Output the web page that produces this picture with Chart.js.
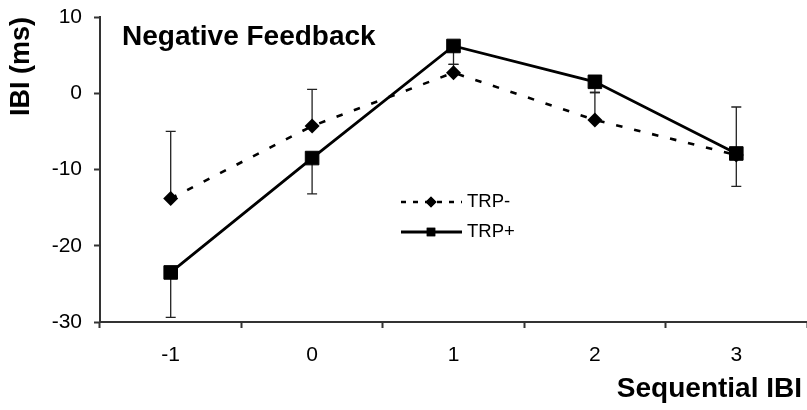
<!DOCTYPE html>
<html>
<head>
<meta charset="utf-8">
<script src="https://cdn.jsdelivr.net/npm/chart.js@4/dist/chart.umd.min.js"></script>
<style>
  html, body { margin: 0; padding: 0; background: #ffffff; }
  #wrap { width: 807px; height: 410px; position: relative; }
</style>
</head>
<body>
<div id="wrap"><canvas id="c" width="807" height="410"></canvas></div>
<script>
// Sequential IBI positions and mean IBI change (ms) per group
const categories = ['-1', '0', '1', '2', '3'];
const trpMinus = [-13.8, -4.3, 2.7, -3.5, -8.1];
const trpPlus = [-23.5, -8.5, 6.2, 1.5, -7.9];
// one-sided error bars: TRP- drawn upward, TRP+ drawn downward
const trpMinusErrUp = [8.8, 4.8, 1.1, 3.6, 6.3];
const trpPlusErrDown = [5.9, 4.7, 2.4, 1.4, 4.3];
const yTicks = [-30, -20, -10, 0, 10];

const FONT = '"Liberation Sans", Arial, Helvetica, sans-serif';
const INK = '#000000';
const AXIS = '#333333';

// Error bars, drawn under the markers
const errorBars = {
  id: 'errorBars',
  beforeDatasetsDraw(chart) {
    const { ctx, scales: { x, y } } = chart;
    const groups = [
      { values: trpMinus, errs: trpMinusErrUp, sign: 1 },
      { values: trpPlus, errs: trpPlusErrDown, sign: -1 }
    ];
    ctx.save();
    ctx.strokeStyle = '#222222';
    ctx.lineWidth = 1.3;
    groups.forEach(g => {
      g.values.forEach((v, i) => {
        const px = x.getPixelForValue(i);
        const y0 = y.getPixelForValue(v);
        const y1 = y.getPixelForValue(v + g.sign * g.errs[i]);
        ctx.beginPath();
        ctx.moveTo(px, y0);
        ctx.lineTo(px, y1);
        ctx.moveTo(px - 5, y1);
        ctx.lineTo(px + 5, y1);
        ctx.stroke();
      });
    });
    ctx.restore();
  }
};

// Caption, legend and horizontal axis title
const overlay = {
  id: 'overlay',
  afterDraw(chart) {
    const { ctx } = chart;
    ctx.save();
    ctx.fillStyle = INK;
    ctx.font = 'bold 28px ' + FONT;
    ctx.textAlign = 'left';
    ctx.textBaseline = 'alphabetic';
    ctx.fillText('Negative Feedback', 122, 45);

    ctx.textAlign = 'right';
    ctx.fillText('Sequential IBI', 802, 397);

    // legend
    const ds = chart.data.datasets;
    const rows = [
      { d: ds.find(s => s.label === 'TRP-'), y: 202, dash: [5, 7], r: 5.5 },
      { d: ds.find(s => s.label === 'TRP+'), y: 232, dash: [], r: 6 }
    ];
    rows.forEach(row => {
      ctx.save();
      ctx.strokeStyle = row.d.borderColor;
      ctx.lineWidth = row.d.borderWidth;
      ctx.setLineDash(row.dash);
      ctx.beginPath();
      ctx.moveTo(401, row.y);
      ctx.lineTo(462, row.y);
      ctx.stroke();
      ctx.restore();
      Chart.helpers.drawPoint(ctx, {
        pointStyle: row.d.pointStyle,
        radius: row.r,
        rotation: 0,
        borderWidth: 0
      }, 431, row.y);
      ctx.fillStyle = INK;
      ctx.fill();
      ctx.font = '18.5px ' + FONT;
      ctx.textAlign = 'left';
      ctx.textBaseline = 'middle';
      ctx.fillText(row.d.label, 467, row.y);
    });
    ctx.restore();
  }
};

new Chart(document.getElementById('c'), {
  type: 'line',
  data: {
    labels: categories,
    datasets: [
      {
        label: 'TRP-',
        data: trpMinus,
        order: 1,
        borderColor: INK,
        borderWidth: 2.6,
        borderDash: [6.5, 12],
        tension: 0,
        fill: false,
        pointStyle: 'rectRot',
        pointRadius: 7.5,
        pointHoverRadius: 7.5,
        pointBackgroundColor: INK,
        pointBorderColor: INK,
        pointBorderWidth: 0
      },
      {
        label: 'TRP+',
        data: trpPlus,
        order: 0,
        borderColor: INK,
        borderWidth: 2.8,
        tension: 0,
        fill: false,
        pointStyle: 'rect',
        pointRadius: 9.6,
        pointHoverRadius: 9.6,
        pointBackgroundColor: INK,
        pointBorderColor: INK,
        pointBorderWidth: 1
      }
    ]
  },
  options: {
    responsive: false,
    devicePixelRatio: 1,
    animation: false,
    events: [],
    layout: { autoPadding: false, padding: { top: 17, left: 0, right: 0, bottom: 0 } },
    plugins: {
      legend: { display: false },
      tooltip: { enabled: false },
      title: { display: false }
    },
    scales: {
      x: {
        type: 'category',
        offset: true,
        grid: {
          offset: true,
          drawOnChartArea: false,
          drawTicks: true,
          tickLength: 6,
          tickWidth: 2,
          tickColor: AXIS
        },
        border: { display: true, color: AXIS, width: 2 },
        ticks: {
          color: INK,
          font: { family: FONT, size: 21 },
          padding: 15,
          maxRotation: 0,
          autoSkip: false
        },
        afterFit(scale) {
          scale.height = 88;
          scale.paddingLeft = 0;
          scale.paddingRight = 0;
        }
      },
      y: {
        min: -30,
        max: 10,
        afterBuildTicks(scale) {
          scale.ticks = yTicks.map(v => ({ value: v }));
        },
        grid: {
          drawOnChartArea: false,
          drawTicks: true,
          tickLength: 6,
          tickWidth: 2,
          tickColor: AXIS
        },
        border: { display: true, color: AXIS, width: 2 },
        ticks: {
          color: INK,
          font: { family: FONT, size: 21 },
          padding: 12
        },
        title: {
          display: true,
          text: 'IBI (ms)',
          color: INK,
          align: 'end',
          font: { family: FONT, size: 27, weight: 'bold' },
          padding: { top: 5, bottom: 0 }
        },
        afterFit(scale) {
          scale.width = 100;
          scale.paddingTop = 0;
          scale.paddingBottom = 0;
        }
      }
    }
  },
  plugins: [errorBars, overlay]
});
</script>
</body>
</html>
